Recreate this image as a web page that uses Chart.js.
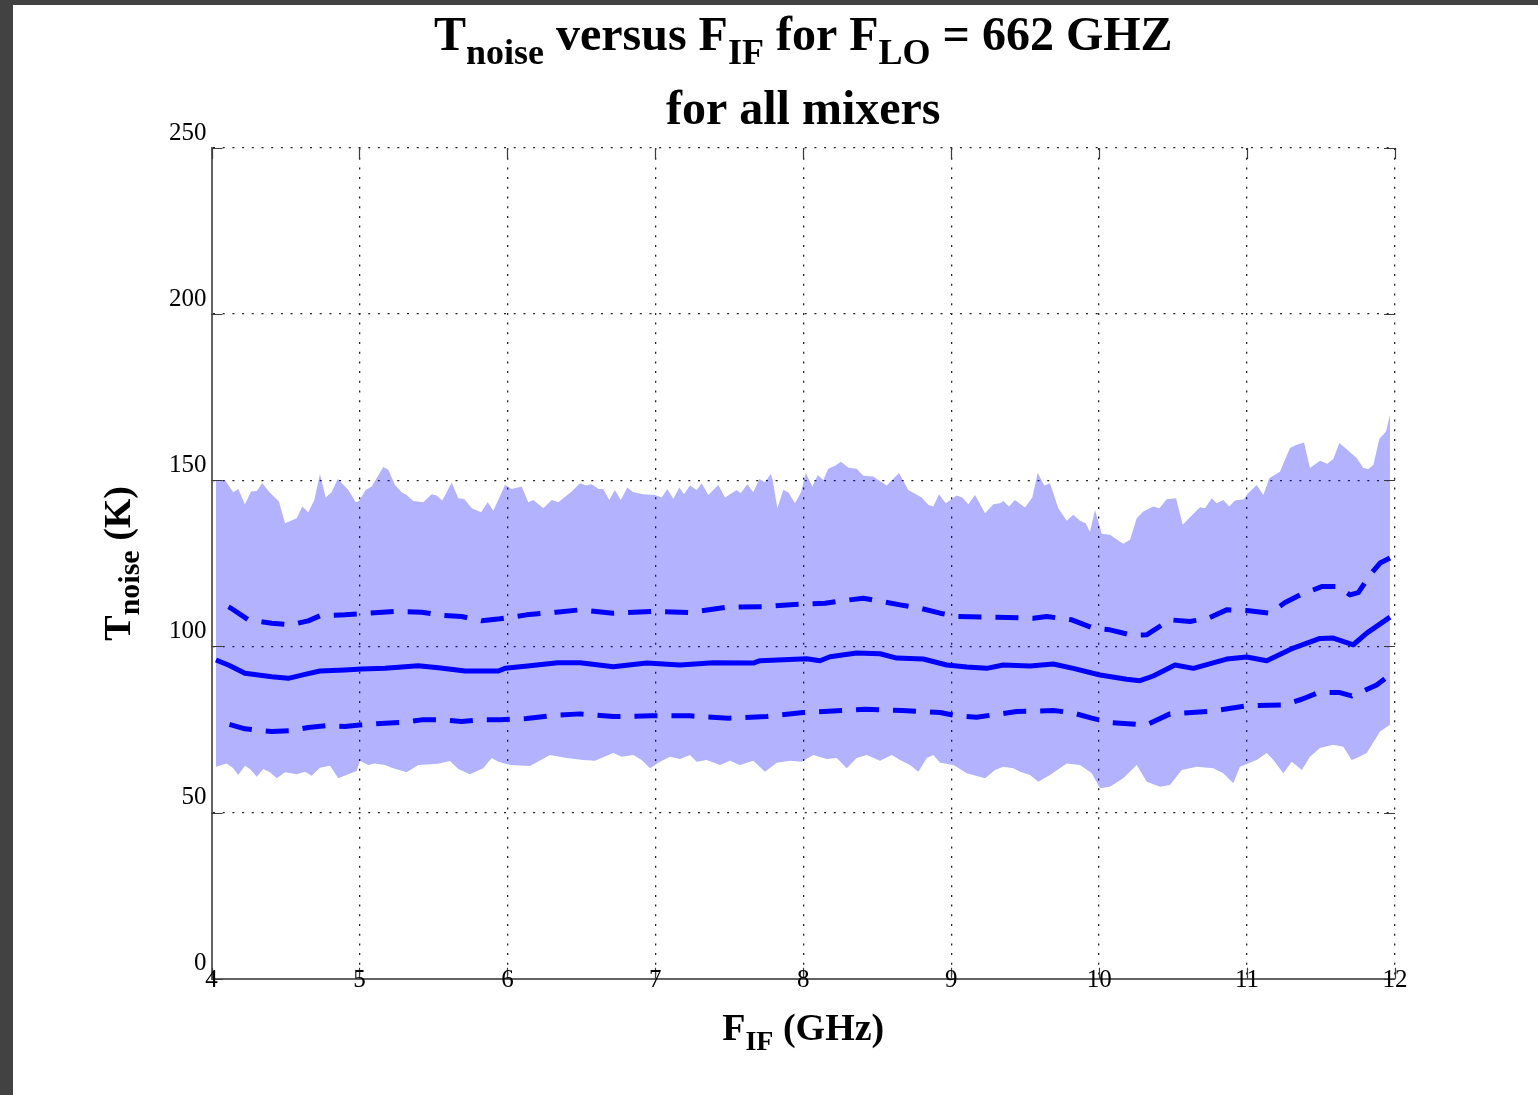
<!DOCTYPE html>
<html>
<head>
<meta charset="utf-8">
<title>Tnoise versus FIF</title>
<script src="https://cdn.jsdelivr.net/npm/chart.js@4.4.1/dist/chart.umd.min.js"></script>
<style>
  html, body { margin: 0; padding: 0; background: #424242; overflow: hidden; }
  #sheet { position: absolute; left: 13px; top: 5px; width: 1525px; height: 1090px; background: #fff; }
  canvas { display: block; }
</style>
</head>
<body>
<div id="sheet"><canvas id="tnoise-chart" width="1525" height="1090"></canvas></div>
<script>
'use strict';

// Envelope of all mixers: maximum (upper edge) and minimum (lower edge), GHz / K
const upperFreq = [4.03, 4.091, 4.147, 4.181, 4.226, 4.267, 4.306, 4.343, 4.384, 4.456,
  4.497, 4.576, 4.614, 4.654, 4.695, 4.733, 4.772, 4.812, 4.853, 4.925,
  4.975, 4.997, 5.042, 5.083, 5.161, 5.195, 5.24, 5.286, 5.319, 5.364,
  5.432, 5.488, 5.522, 5.56, 5.624, 5.668, 5.709, 5.759, 5.822, 5.867,
  5.905, 5.984, 6.029, 6.097, 6.141, 6.175, 6.243, 6.3, 6.344, 6.435,
  6.491, 6.531, 6.57, 6.615, 6.648, 6.689, 6.727, 6.766, 6.811, 6.851,
  6.919, 6.998, 7.043, 7.081, 7.122, 7.162, 7.194, 7.234, 7.28, 7.314,
  7.358, 7.426, 7.471, 7.55, 7.577, 7.622, 7.662, 7.703, 7.741, 7.78,
  7.793, 7.825, 7.865, 7.899, 7.944, 7.985, 8.017, 8.061, 8.098, 8.136,
  8.169, 8.215, 8.255, 8.305, 8.361, 8.406, 8.473, 8.564, 8.647, 8.71,
  8.801, 8.845, 8.879, 8.918, 8.963, 9.037, 9.075, 9.116, 9.161, 9.229,
  9.285, 9.33, 9.352, 9.391, 9.431, 9.499, 9.548, 9.585, 9.629, 9.668,
  9.724, 9.781, 9.825, 9.871, 9.909, 9.938, 9.972, 10.017, 10.073, 10.163,
  10.209, 10.254, 10.299, 10.366, 10.407, 10.457, 10.52, 10.565, 10.614, 10.682,
  10.716, 10.761, 10.795, 10.839, 10.88, 10.918, 10.979, 11.002, 11.065, 11.11,
  11.15, 11.222, 11.29, 11.335, 11.385, 11.425, 11.493, 11.542, 11.583, 11.624,
  11.741, 11.786, 11.82, 11.854, 11.894, 11.939, 11.966];
const upperK = [149.8, 150.1, 146.4, 147.4, 142.8, 146.6, 146.8, 149.2, 146.8, 143.6,
  137.1, 138.6, 142.1, 140.4, 144.1, 151.9, 144.8, 146.4, 150.4, 147.1,
  143.4, 143.8, 147.1, 148.1, 154.0, 153.2, 148.6, 146.4, 145.6, 143.8,
  143.4, 145.8, 145.4, 143.9, 149.3, 144.6, 144.4, 141.6, 140.4, 143.4,
  140.8, 148.6, 147.4, 148.1, 143.4, 144.1, 141.6, 144.1, 143.4, 146.6,
  149.1, 148.4, 148.8, 147.4, 147.4, 144.1, 147.1, 144.1, 147.8, 146.4,
  145.8, 145.6, 144.8, 147.4, 144.4, 147.8, 145.8, 148.4, 147.1, 149.1,
  145.6, 148.6, 144.8, 147.1, 146.1, 148.8, 146.4, 150.4, 149.4, 151.9,
  150.1, 141.6, 147.1, 146.4, 143.1, 146.4, 152.2, 148.1, 151.6, 150.1,
  153.5, 154.4, 155.6, 153.8, 153.5, 151.4, 151.1, 148.4, 152.2, 147.1,
  144.8, 142.6, 142.1, 145.8, 143.1, 145.4, 144.8, 142.8, 145.6, 140.1,
  142.8, 143.1, 143.8, 142.1, 144.1, 141.8, 144.8, 152.2, 148.4, 149.1,
  141.6, 137.8, 139.6, 137.8, 137.1, 134.4, 141.1, 133.9, 133.6, 130.9,
  132.1, 138.6, 140.6, 142.1, 141.6, 144.3, 144.6, 136.6, 138.9, 141.9,
  141.6, 144.6, 143.1, 144.1, 142.1, 143.9, 144.3, 145.9, 148.6, 145.6,
  150.6, 152.6, 159.7, 160.7, 161.4, 153.7, 155.9, 155.0, 156.4, 161.2,
  156.7, 153.7, 153.4, 154.7, 162.4, 164.7, 169.7];

const lowerFreq = [4.03, 4.103, 4.147, 4.181, 4.226, 4.26, 4.306, 4.35, 4.395, 4.441,
  4.497, 4.576, 4.632, 4.677, 4.733, 4.801, 4.857, 4.925, 4.981, 5.004,
  5.06, 5.105, 5.173, 5.218, 5.319, 5.398, 5.533, 5.612, 5.668, 5.747,
  5.837, 5.894, 5.939, 6.018, 6.153, 6.288, 6.401, 6.511, 6.592, 6.716,
  6.773, 6.851, 6.908, 6.964, 7.032, 7.099, 7.167, 7.234, 7.28, 7.347,
  7.437, 7.505, 7.572, 7.662, 7.741, 7.821, 7.91, 7.99, 8.068, 8.159,
  8.226, 8.294, 8.361, 8.429, 8.519, 8.598, 8.654, 8.722, 8.778, 8.835,
  8.879, 8.925, 9.015, 9.105, 9.229, 9.296, 9.352, 9.42, 9.465, 9.533,
  9.589, 9.668, 9.781, 9.871, 9.95, 10.006, 10.073, 10.163, 10.254, 10.322,
  10.412, 10.479, 10.558, 10.66, 10.772, 10.839, 10.907, 10.952, 11.065, 11.133,
  11.178, 11.245, 11.302, 11.37, 11.425, 11.493, 11.583, 11.65, 11.707, 11.741,
  11.809, 11.899, 11.966];
const lowerK = [63.8, 64.8, 63.3, 61.3, 64.1, 63.1, 60.8, 63.1, 62.1, 60.3,
  62.1, 61.5, 62.3, 61.1, 63.5, 64.1, 60.3, 61.5, 62.5, 65.5,
  64.3, 64.8, 64.3, 63.5, 62.1, 64.3, 64.7, 65.5, 63.1, 61.5,
  63.3, 66.4, 65.3, 64.3, 64.0, 67.3, 66.4, 65.8, 65.6, 67.9,
  66.8, 67.3, 65.8, 63.3, 65.3, 66.8, 66.1, 67.3, 65.3, 65.8,
  64.3, 65.6, 64.3, 65.6, 62.3, 65.0, 65.6, 65.3, 67.3, 66.1,
  66.4, 63.3, 66.4, 67.3, 65.6, 67.3, 65.8, 64.3, 62.3, 66.4,
  67.3, 65.0, 64.3, 61.8, 60.3, 62.8, 63.8, 63.3, 62.3, 61.3,
  59.3, 61.3, 64.8, 64.3, 61.8, 57.3, 57.8, 60.3, 64.3, 59.3,
  57.8, 58.3, 62.8, 63.8, 63.3, 61.8, 58.8, 63.8, 65.8, 67.9,
  65.8, 61.8, 65.3, 62.8, 66.8, 69.4, 70.4, 69.8, 65.8, 66.4,
  67.9, 74.4, 76.4];

// Mean noise temperature (solid)
const meanFreq = [4.03, 4.114, 4.226, 4.407, 4.519, 4.632, 4.733, 4.902, 5.015, 5.173,
  5.398, 5.533, 5.714, 5.939, 5.984, 6.137, 6.34, 6.491, 6.716, 6.942,
  7.167, 7.392, 7.662, 7.708, 8.023, 8.113, 8.181, 8.361, 8.519, 8.632,
  8.811, 8.97, 9.105, 9.24, 9.352, 9.533, 9.69, 9.825, 10.006, 10.186,
  10.276, 10.366, 10.513, 10.637, 10.862, 10.998, 11.133, 11.313, 11.493, 11.583,
  11.718, 11.809, 11.966];
const meanK = [95.9, 94.4, 91.9, 90.9, 90.4, 91.6, 92.6, 92.9, 93.2, 93.4,
  94.2, 93.6, 92.6, 92.6, 93.4, 94.1, 95.1, 95.1, 93.9, 95.0,
  94.4, 95.1, 95.0, 95.7, 96.3, 95.7, 96.9, 98.0, 97.8, 96.5,
  96.2, 94.4, 93.8, 93.4, 94.4, 94.1, 94.7, 93.4, 91.4, 90.1,
  89.7, 91.1, 94.4, 93.4, 96.2, 96.8, 95.7, 99.5, 102.4, 102.5,
  100.5, 104.0, 108.8];

// Mean + one standard deviation (dashed)
const plusFreq = [4.03, 4.132, 4.249, 4.407, 4.537, 4.654, 4.733, 4.902, 5.06, 5.24,
  5.421, 5.567, 5.691, 5.826, 5.95, 6.13, 6.33, 6.491, 6.716, 6.986,
  7.234, 7.483, 7.753, 7.888, 8.147, 8.271, 8.406, 8.53, 8.654, 8.789,
  8.925, 9.037, 9.308, 9.555, 9.646, 9.815, 9.961, 10.073, 10.22, 10.321,
  10.479, 10.614, 10.738, 10.862, 10.998, 11.155, 11.257, 11.358, 11.505, 11.617,
  11.696, 11.752, 11.831, 11.899, 11.966];
const plusK = [113.8, 111.5, 108.0, 107.0, 106.5, 107.7, 109.2, 109.5, 110.0, 110.5,
  110.3, 109.3, 109.0, 107.7, 108.3, 109.5, 110.3, 111.0, 110.0, 110.5,
  110.2, 111.8, 112.0, 112.5, 113.0, 113.8, 114.5, 113.5, 112.5, 111.5,
  110.0, 109.0, 108.8, 108.5, 109.0, 108.0, 105.5, 105.0, 103.4, 103.5,
  108.0, 107.5, 108.5, 111.0, 110.8, 110.0, 113.2, 115.5, 118.0, 118.0,
  115.5, 116.2, 121.5, 125.1, 126.6];

// Mean - one standard deviation (dashed)
const minusFreq = [4.03, 4.132, 4.226, 4.407, 4.531, 4.654, 4.79, 4.902, 5.06, 5.173,
  5.308, 5.421, 5.567, 5.691, 5.826, 5.95, 6.13, 6.33, 6.491, 6.716,
  6.976, 7.234, 7.493, 7.753, 8.0, 8.271, 8.417, 8.665, 8.925, 9.037,
  9.172, 9.443, 9.69, 9.815, 9.95, 10.073, 10.321, 10.479, 10.738, 10.998,
  11.245, 11.37, 11.481, 11.627, 11.707, 11.763, 11.876, 11.966];
const minusK = [77.6, 76.4, 75.2, 74.4, 74.6, 75.6, 76.2, 75.9, 76.6, 76.9,
  77.2, 77.9, 77.9, 77.4, 77.9, 77.9, 78.3, 79.3, 79.7, 78.9,
  79.1, 79.1, 78.4, 78.9, 80.1, 80.7, 81.1, 80.7, 80.1, 79.1,
  78.7, 80.4, 80.7, 80.1, 78.4, 77.1, 76.4, 79.7, 80.4, 82.1,
  82.4, 84.1, 86.1, 86.1, 85.1, 86.1, 88.4, 91.4];

// Axis ranges and ticks
const freqTicks = [4, 5, 6, 7, 8, 9, 10, 11, 12];
const tempTicks = [0, 50, 100, 150, 200, 250];

const SERIF = '"Liberation Serif", "Times New Roman", Times, serif';
const BLUE = '#0000ff';

function toPoints(xs, ys) {
  const n = Math.min(xs.length, ys.length);
  const out = [];
  for (let i = 0; i < n; i++) out.push({ x: xs[i], y: ys[i] });
  return out;
}

// Text with subscripts, centred on cx
function drawRich(ctx, parts, cx, baseY, mainPx, subPx, subDrop) {
  const fontOf = p => 'bold ' + (p.sub ? subPx : mainPx) + 'px ' + SERIF;
  let total = 0;
  parts.forEach(p => { ctx.font = fontOf(p); p.w = ctx.measureText(p.text).width; total += p.w; });
  let x = cx - total / 2;
  ctx.textAlign = 'left';
  ctx.textBaseline = 'alphabetic';
  parts.forEach(p => {
    ctx.font = fontOf(p);
    ctx.fillText(p.text, x, baseY + (p.sub ? subDrop : 0));
    x += p.w;
  });
}

const labelsPlugin = {
  id: 'richLabels',
  afterDraw(chart) {
    const { ctx, chartArea: a, scales } = chart;
    const cx = (a.left + a.right) / 2;
    ctx.save();
    ctx.fillStyle = '#000';

    // tick labels: sit just above the y ticks and straddle the x axis line
    ctx.font = '25px ' + SERIF;
    ctx.textBaseline = 'alphabetic';
    ctx.textAlign = 'right';
    tempTicks.forEach(v => {
      ctx.fillText(String(v), a.left - 5, scales.y.getPixelForValue(v) - 8.5);
    });
    ctx.textAlign = 'center';
    freqTicks.forEach(v => {
      ctx.fillText(String(v), scales.x.getPixelForValue(v), a.bottom + 8.5);
    });

    drawRich(ctx, [
      { text: 'T' }, { text: 'noise', sub: true }, { text: ' versus F' }, { text: 'IF', sub: true },
      { text: ' for F' }, { text: 'LO', sub: true }, { text: ' = 662 GHZ' }
    ], cx, 45, 48, 36, 14);
    drawRich(ctx, [{ text: 'for all mixers' }], cx, 119, 48, 36, 0);
    drawRich(ctx, [{ text: 'F' }, { text: 'IF', sub: true }, { text: ' (GHz)' }], cx, 1035, 38, 28, 10);
    ctx.translate(117, (a.top + a.bottom) / 2);
    ctx.rotate(-Math.PI / 2);
    drawRich(ctx, [{ text: 'T' }, { text: 'noise', sub: true }, { text: ' (K)' }], 0, 0, 38, 30, 9);
    ctx.restore();
  }
};

// Short tick marks pointing into the plot on all four sides
const inwardTicks = {
  id: 'inwardTicks',
  afterDatasetsDraw(chart) {
    const { ctx, chartArea: a, scales } = chart;
    const len = 11;
    ctx.save();
    ctx.strokeStyle = '#3a3a3a';
    ctx.lineWidth = 1.2;
    ctx.beginPath();
    tempTicks.forEach(v => {
      const py = Math.round(scales.y.getPixelForValue(v)) + 0.5;
      ctx.moveTo(a.left, py); ctx.lineTo(a.left + len, py);
      ctx.moveTo(a.right, py); ctx.lineTo(a.right - len, py);
    });
    freqTicks.forEach(v => {
      const px = Math.round(scales.x.getPixelForValue(v)) + 0.5;
      ctx.moveTo(px, a.bottom); ctx.lineTo(px, a.bottom - len);
      ctx.moveTo(px, a.top); ctx.lineTo(px, a.top + len);
    });
    ctx.stroke();
    ctx.restore();
  }
};

const canvas = document.getElementById('tnoise-chart');
new Chart(canvas.getContext('2d'), {
  type: 'line',
  data: {
    datasets: [
      {
        label: 'max',
        data: toPoints(upperFreq, upperK),
        borderColor: 'rgba(0,0,0,0)',
        borderWidth: 0,
        pointRadius: 0,
        backgroundColor: 'rgba(0,0,255,0.3)',
        fill: '+1',
        order: 5
      },
      {
        label: 'min',
        data: toPoints(lowerFreq, lowerK),
        borderColor: 'rgba(0,0,0,0)',
        borderWidth: 0,
        pointRadius: 0,
        fill: false,
        order: 5
      },
      {
        label: 'mean',
        data: toPoints(meanFreq, meanK),
        borderColor: BLUE,
        borderWidth: 5,
        pointRadius: 0,
        fill: false,
        order: 1
      },
      {
        label: 'mean + sigma',
        data: toPoints(plusFreq, plusK),
        borderColor: BLUE,
        borderWidth: 5,
        borderDash: [23, 14],
        borderDashOffset: 23,
        pointRadius: 0,
        fill: false,
        order: 1
      },
      {
        label: 'mean - sigma',
        data: toPoints(minusFreq, minusK),
        borderColor: BLUE,
        borderWidth: 5,
        borderDash: [23, 14],
        borderDashOffset: 23,
        pointRadius: 0,
        fill: false,
        order: 1
      }
    ]
  },
  options: {
    responsive: false,
    animation: false,
    devicePixelRatio: 1,
    events: [],
    layout: { padding: { top: 143, right: 143, left: 0, bottom: 0 } },
    elements: { line: { tension: 0, borderCapStyle: 'butt', borderJoinStyle: 'round' } },
    plugins: {
      legend: { display: false },
      title: { display: false },
      tooltip: { enabled: false }
    },
    scales: {
      x: {
        type: 'linear',
        min: freqTicks[0],
        max: freqTicks[freqTicks.length - 1],
        afterBuildTicks: scale => { scale.ticks = freqTicks.map(v => ({ value: v })); },
        afterFit: scale => { scale.height = 116.3; },
        grid: { color: '#222', lineWidth: 1.3, drawTicks: false },
        border: { display: true, color: '#636363', width: 2, dash: [2, 7.7] },
        ticks: { display: false }
      },
      y: {
        type: 'linear',
        min: tempTicks[0],
        max: tempTicks[tempTicks.length - 1],
        afterBuildTicks: scale => { scale.ticks = tempTicks.map(v => ({ value: v })); },
        afterFit: scale => { scale.width = 198.5; },
        grid: { color: '#222', lineWidth: 1.3, drawTicks: false },
        border: { display: true, color: '#636363', width: 2, dash: [2, 7.7] },
        ticks: { display: false }
      }
    }
  },
  plugins: [inwardTicks, labelsPlugin]
});
</script>
</body>
</html>
